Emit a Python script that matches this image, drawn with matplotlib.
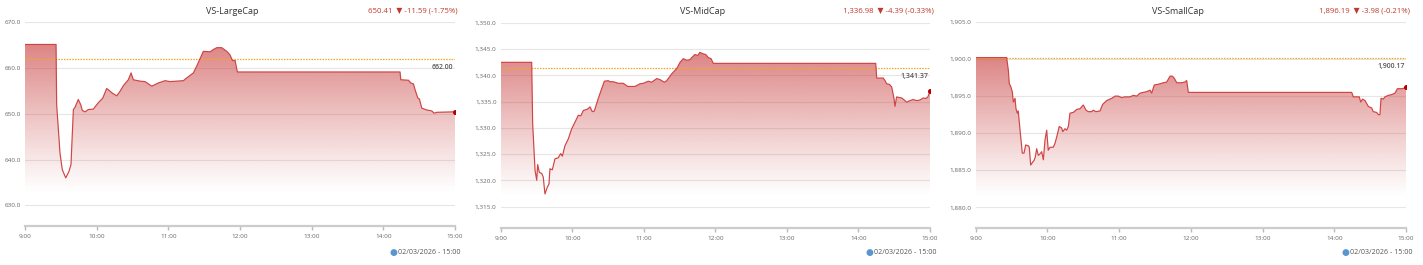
import numpy as np
import matplotlib
matplotlib.use("Agg")
import matplotlib.pyplot as plt

plt.rcParams['font.family'] = ['Open Sans', 'DejaVu Sans']

# minutes after 9:00
large_time = [0, 26, 26.5, 29.3, 31.2, 34.1, 36.8, 38.5, 40.5, 41.9, 44.6, 46.6, 48, 50.3, 53,
              57.2, 61.4, 65.1, 68.4, 71.2, 73.5, 76.8, 79.6, 82.3, 86.5, 88.8, 90.7, 96.3,
              100.5, 106.1, 111.6, 117.3, 121.4, 127, 132.6, 135.4, 141, 143.8, 149.3, 155,
              157.7, 160.6, 164.7, 168.9, 171.7, 173.6, 175.9, 177.8, 314, 314.6, 321, 323,
              325.2, 326.6, 328.9, 330.2, 332.2, 336.4, 340.6, 342.5, 344.8, 360]
large_value = [665.1, 665.1, 652.0, 641.4, 637.8, 636.0, 637.4, 638.9, 650.9, 651.4, 653.1,
               652.0, 650.7, 650.4, 650.9, 651.0, 652.4, 653.4, 655.5, 654.9, 654.4, 653.9,
               654.9, 656.1, 657.4, 658.9, 657.4, 657.1, 657.0, 656.0, 656.7, 657.2, 657.0,
               657.1, 657.2, 657.8, 658.9, 660.4, 663.6, 663.5, 664.0, 664.4, 664.4, 663.6,
               662.8, 661.6, 661.6, 659.1, 659.1, 657.4, 657.3, 656.7, 656.5, 655.2, 653.4,
               653.2, 651.2, 650.8, 650.6, 650.1, 650.3, 650.41]

mid_time = [0, 26, 26.8, 28.8, 30.2, 31, 32.4, 34.4, 35.7, 37.1, 39.1, 40.5, 41.3, 43.3, 45.5,
            48.3, 50.3, 51.7, 53.9, 56.7, 59.5, 62.3, 65.1, 67.1, 69.3, 73, 74.9, 76.8, 78.5,
            81.8, 86.9, 90.2, 91.6, 94.4, 98.6, 102.8, 106.5, 112.6, 116.8, 119.6, 123.8,
            126.6, 130.8, 133.6, 137.2, 139.2, 143.4, 147.6, 150.4, 153.1, 156, 158.7, 160.2,
            162.9, 165.2, 167.1, 169.9, 171.9, 174.1, 176.4, 178.3, 314.5, 315.3, 320.8, 322.3,
            323.7, 325.9, 327.9, 329.8, 330.6, 332, 336.3, 339, 340.4, 343.2, 345.9, 348.8,
            351.5, 354.3, 356.5, 358.2, 360]
mid_value = [1342.5, 1342.5, 1330.8, 1321.9, 1320.0, 1323.0, 1321.5, 1321.3, 1320.6, 1317.4,
             1318.7, 1319.3, 1322.2, 1322.0, 1324.1, 1324.3, 1325.1, 1324.6, 1326.6, 1327.9,
             1329.8, 1331.1, 1332.4, 1332.3, 1333.3, 1333.6, 1334.0, 1333.1, 1333.2, 1335.6,
             1338.9, 1339.0, 1338.8, 1338.8, 1338.5, 1338.5, 1337.9, 1337.9, 1338.4, 1338.5,
             1338.9, 1338.7, 1339.4, 1339.2, 1338.7, 1339.0, 1340.3, 1341.3, 1342.5, 1343.2,
             1342.9, 1343.0, 1343.4, 1344.0, 1343.8, 1344.4, 1344.1, 1344.0, 1343.4, 1343.2,
             1342.3, 1342.3, 1339.5, 1339.5, 1339.0, 1338.4, 1338.3, 1337.8, 1335.6, 1334.1,
             1335.9, 1335.7, 1335.2, 1334.9, 1335.2, 1335.4, 1335.2, 1335.3, 1335.7, 1335.6,
             1335.9, 1336.98]

small_time = [0, 25.9, 27.3, 28.1, 29.3, 30.6, 31.5, 32.9, 33.7, 34.8, 35.6, 37.1, 39, 40.4,
              41.8, 44, 44.8, 46, 47.7, 48.8, 49.9, 51, 52.4, 53.8, 55.2, 56.6, 58, 59.4, 60.7,
              62.2, 64.9, 66.3, 67.8, 69.9, 71.9, 72.8, 74.7, 76.1, 77.5, 78.9, 81.7, 84.5,
              87.3, 90, 92.3, 94.2, 97, 98.4, 100.6, 104, 106.3, 109.6, 113.8, 116.6, 119.3,
              122.1, 124.9, 129.1, 131.9, 134.7, 137.5, 140.2, 143.1, 145.8, 147.2, 149.4,
              152.8, 157, 159.8, 162.6, 164.5, 166.2, 168.2, 172.3, 175.1, 176.5, 177.9,
              314.6, 315.9, 320.9, 322.1, 323.7, 325.7, 328.5, 331.3, 332.6, 335.5, 336.8,
              338.2, 339.1, 341, 342.4, 345.2, 348, 350.8, 352.8, 356.4, 359.2, 360]
small_value = [1900.2, 1900.2, 1898.5, 1896.7, 1896.3, 1895.6, 1894.2, 1894.7, 1893.3, 1892.7,
               1893.0, 1890.4, 1887.3, 1887.3, 1888.4, 1888.3, 1888.1, 1885.7, 1886.1, 1886.3,
               1886.8, 1887.9, 1887.0, 1887.2, 1887.5, 1886.4, 1889.1, 1890.4, 1887.7, 1888.1,
               1888.1, 1888.6, 1889.5, 1890.9, 1890.7, 1890.2, 1890.6, 1890.4, 1890.9, 1892.7,
               1892.8, 1893.2, 1893.3, 1893.8, 1893.1, 1892.9, 1892.9, 1893.1, 1892.9, 1893.0,
               1893.9, 1894.4, 1894.7, 1895.0, 1895.0, 1894.8, 1894.9, 1894.9, 1895.1, 1895.0,
               1895.4, 1895.5, 1895.6, 1895.8, 1895.4, 1896.5, 1896.6, 1896.8, 1896.9, 1897.7,
               1897.7, 1897.4, 1896.8, 1896.8, 1896.9, 1897.1, 1895.5,
               1895.5, 1894.9, 1894.9, 1894.2, 1894.6, 1894.4, 1893.6, 1893.4, 1892.9, 1892.8,
               1892.5, 1892.5, 1894.7, 1894.6, 1894.9, 1895.1, 1895.2, 1895.4, 1896.0, 1896.0,
               1896.1, 1896.19]

hour_labels = ['9:00', '10:00', '11:00', '12:00', '13:00', '14:00', '15:00']
W, H = 1423, 265


def px_axes(fig, x0, x1, ytop, ybot):
    return fig.add_axes([x0 / W, (H - ybot) / H, (x1 - x0) / W, (ybot - ytop) / H])


def draw_panel(fig, box, t, v, ylim, yticks, ylabels, ref, ref_label, title, quote, center, right):
    ax = px_axes(fig, *box)
    ax.set_xlim(0, 360)
    ax.set_ylim(*ylim)
    ax.set_facecolor('none')
    for s in ['top', 'right', 'left']:
        ax.spines[s].set_visible(False)
    ax.spines['bottom'].set_color('#cccccc')
    ax.spines['bottom'].set_linewidth(1.6)
    ax.set_xticks(np.arange(0, 361, 60))
    ax.set_xticklabels(hour_labels)
    ax.set_yticks(yticks)
    ax.set_yticklabels(ylabels)
    ax.tick_params(axis='x', colors='#bbbbbb', labelcolor='#666666', labelsize=4.6,
                   length=3, width=1, pad=3)
    ax.tick_params(axis='y', length=0, labelcolor='#666666', labelsize=4.6, pad=3)
    for y in yticks:
        ax.axhline(y, color='#e6e6e6', lw=0.8, zorder=0)

    # gradient area under line
    poly = ax.fill_between(t, v, ylim[0], color='none', lw=0)
    grad = np.linspace(0, 1, 256).reshape(-1, 1)
    alpha = np.clip((grad - 0.18) / 0.82, 0, 1) ** 1.1 * 0.65
    img = np.zeros((256, 1, 4))
    img[..., 0] = 202 / 255
    img[..., 1] = 66 / 255
    img[..., 2] = 66 / 255
    img[..., 3] = alpha
    top = max(v)
    im = ax.imshow(img, extent=[0, 360, ylim[0], top], origin='lower', aspect='auto', zorder=1)
    im.set_clip_path(poly.get_paths()[0], transform=ax.transData)

    ax.plot(t, v, color='#cf4444', lw=0.85, zorder=3)
    ax.plot([t[-1]], [v[-1]], 'o', color='#b40000', ms=2.6, zorder=4)

    ax.axhline(ref, color='#f5a623', lw=0.9, ls=(0, (1.2, 1.0)), zorder=2)
    ax.annotate(ref_label, xy=(1, ref), xycoords=('axes fraction', 'data'),
                xytext=(-1, -3.5), textcoords='offset points', ha='right', va='top',
                fontsize=5, color='#555555', fontweight='semibold')

    fig.text(center / W, 1 - 11 / H, title, ha='center', va='center', fontsize=6.5,
             color='#333333')
    fig.text(right / W, 1 - 11 / H, quote, ha='right', va='center', fontsize=5.6,
             color='#c0392b')
    fig.text((right + 3) / W, 1 - 252 / H, '02/03/2026 - 15:00', ha='right', va='center',
             fontsize=5.1, color='#555555')
    fig.text((right - 65) / W, 1 - 252 / H, '\u25CF', ha='center', va='center',
             fontsize=6.5, color='#5b95d0')
    return ax


fig = plt.figure(figsize=(W / 100, H / 100), dpi=100)

draw_panel(fig, (25, 455, 22, 226), large_time, large_value, (625.5, 670),
           [630, 640, 650, 660, 670], ['630.0', '640.0', '650.0', '660.0', '670.0'],
           662.0, '662.00', 'VS-LargeCap', '650.41  \u25BC -11.59 (-1.75%)', 232, 458)

draw_panel(fig, (500.7, 930, 23, 228), mid_time, mid_value, (1310.9, 1350),
           [1315, 1320, 1325, 1330, 1335, 1340, 1345, 1350],
           ['1,315.0', '1,320.0', '1,325.0', '1,330.0', '1,335.0', '1,340.0', '1,345.0', '1,350.0'],
           1341.37, '1,341.37', 'VS-MidCap', '1,336.98  \u25BC -4.39 (-0.33%)', 703, 934)

draw_panel(fig, (975.7, 1406, 22, 228), small_time, small_value, (1877.2, 1905),
           [1880, 1885, 1890, 1895, 1900, 1905],
           ['1,880.0', '1,885.0', '1,890.0', '1,895.0', '1,900.0', '1,905.0'],
           1900.17, '1,900.17', 'VS-SmallCap', '1,896.19  \u25BC -3.98 (-0.21%)', 1178, 1410)

fig.savefig('out.png', dpi=100)
